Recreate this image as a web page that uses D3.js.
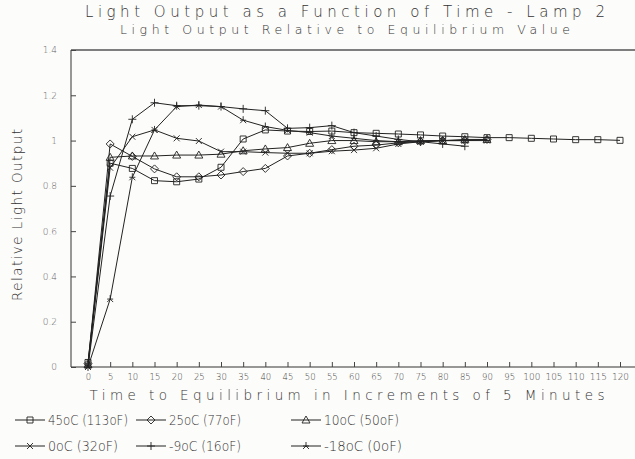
<!DOCTYPE html>
<html>
<head>
<meta charset="utf-8">
<script src="https://cdn.jsdelivr.net/npm/d3@7/dist/d3.min.js"></script>
<style>
  body { margin: 0; background: #fcfcfa; }
  svg { display: block; }
  text { font-family: "DejaVu Sans", sans-serif; font-weight: 200; fill: #333; }
</style>
</head>
<body>
<svg width="635" height="459"></svg>
<script>
"use strict";

// time steps (5 minute increments)
const times = d3.range(0, 121, 5);
const xTicks = d3.range(0, 121, 5);
const yTicks = [0, 0.2, 0.4, 0.6, 0.8, 1, 1.2, 1.4];

const seriesNames = ["45oC (113oF)", "25oC (77oF)", "10oC (50oF)", "0oC (32oF)", "-9oC (16oF)", "-18oC (0oF)"];
const seriesSymbols = ["square", "diamond", "triangle", "x", "plus", "star"];

const lamp45 = [0.02, 0.90, 0.877, 0.823, 0.818, 0.83, 0.882, 1.007, 1.047, 1.042, 1.04, 1.042, 1.035,
                1.032, 1.029, 1.025, 1.02, 1.017, 1.013, 1.013, 1.01, 1.007, 1.004, 1.004, 1.001];
const lamp25 = [0.015, 0.985, 0.93, 0.875, 0.84, 0.84, 0.848, 0.863, 0.877, 0.932, 0.944, 0.96, 0.975,
                0.98, 0.99, 0.995, 1.0, 1.0, 1.005];
const lamp10 = [0.01, 0.926, 0.932, 0.932, 0.936, 0.936, 0.94, 0.955, 0.963, 0.969, 0.988, 1.0, 1.0,
                0.995, 0.995, 1.0, 1.0, 1.005, 1.005];
const lamp0 = [0.005, 0.88, 1.017, 1.047, 1.01, 0.998, 0.951, 0.951, 0.947, 0.944, 0.944, 0.953, 0.958,
               0.966, 0.985, 0.995, 1.0, 1.0];
const lampM9 = [0.0, 0.755, 1.094, 1.167, 1.154, 1.154, 1.15, 1.14, 1.132, 1.054, 1.057, 1.066, 1.035,
                1.02, 1.005, 0.995, 0.985, 0.975];
const lampM18 = [0.0, 0.30, 0.838, 1.047, 1.15, 1.157, 1.15, 1.09, 1.062, 1.045, 1.035, 1.02, 1.01,
                 1.0, 0.995, 0.995, 1.0, 1.0, 1.0];
const seriesValues = [lamp45, lamp25, lamp10, lamp0, lampM9, lampM18];

const plotLeft = 71, plotRight = 635, plotTop = 50, plotBottom = 367;

const svg = d3.select("svg");

const xScale = d3.scaleLinear().domain([0, 120]).range([88, 620]);
const yScale = d3.scaleLinear().domain([0, 1.4]).range([plotBottom, plotTop]);

function symbolPath(kind, s) {
    switch (kind) {
        case "square": return `M${-s},${-s}h${2*s}v${2*s}h${-2*s}Z`;
        case "diamond": return `M0,${-s-1}L${s+1},0L0,${s+1}L${-s-1},0Z`;
        case "triangle": return `M0,${-s-1}L${s+1},${s}L${-s-1},${s}Z`;
        case "x": return `M${-s},${-s}L${s},${s}M${-s},${s}L${s},${-s}`;
        case "plus": return `M${-s-1},0H${s+1}M0,${-s-1}V${s+1}`;
        case "star": return `M0,${-s-1}V0M${-s},${s}L0,0L${s},${s}M${-s},0H${s}`;
    }
}

// titles
svg.append("text").attr("x", 345).attr("y", 17).attr("text-anchor", "middle")
    .attr("font-size", 15).attr("textLength", 520).attr("lengthAdjust", "spacing")
    .text("Light Output as a Function of Time - Lamp 2");
svg.append("text").attr("x", 345).attr("y", 34).attr("text-anchor", "middle")
    .attr("font-size", 12.5).attr("textLength", 450).attr("lengthAdjust", "spacing")
    .text("Light Output Relative to Equilibrium Value");

// frame
svg.append("path")
    .attr("d", `M${plotLeft},${plotTop}V${plotBottom}H${plotRight}`)
    .attr("fill", "none").attr("stroke", "#333").attr("stroke-width", 1);
svg.append("line").attr("x1", plotLeft).attr("x2", plotRight).attr("y1", plotTop).attr("y2", plotTop)
    .attr("stroke", "#555").attr("stroke-width", 1.6);

// axes
const xAxis = svg.append("g").attr("transform", `translate(0,${plotBottom})`)
    .call(d3.axisBottom(xScale).tickValues(xTicks).tickSize(-5).tickPadding(7).tickFormat(d3.format("d")));
xAxis.select(".domain").remove();
xAxis.selectAll("line").attr("stroke", "#444");
xAxis.selectAll("text").attr("font-size", 8.5).style("fill", "#444").attr("font-family", "DejaVu Sans")
    .attr("textLength", d => d >= 100 ? 17 : null).attr("lengthAdjust", "spacingAndGlyphs");

const yAxis = svg.append("g").attr("transform", `translate(${plotLeft},0)`)
    .call(d3.axisLeft(yScale).tickValues(yTicks).tickSize(-5).tickPadding(14)
        .tickFormat(d => String(Math.round(d * 10) / 10)));
yAxis.select(".domain").remove();
yAxis.selectAll("line").attr("stroke", "#444");
yAxis.selectAll("text").attr("font-size", 9).style("fill", "#666").attr("font-family", "DejaVu Sans");

// axis titles
svg.append("text").attr("x", 347).attr("y", 400).attr("text-anchor", "middle")
    .attr("font-size", 13.5).attr("textLength", 515).attr("lengthAdjust", "spacing")
    .text("Time to Equilibrium in Increments of 5 Minutes");
svg.append("text").attr("transform", "translate(22,215) rotate(-90)").attr("text-anchor", "middle")
    .attr("font-size", 13.5).attr("textLength", 172).attr("lengthAdjust", "spacing")
    .text("Relative Light Output");

// series
const line = d3.line().x((d, i) => xScale(times[i])).y(d => yScale(d));
seriesValues.forEach((vals, k) => {
    const g = svg.append("g");
    g.append("path").attr("d", line(vals)).attr("fill", "none")
        .attr("stroke", "#222").attr("stroke-width", 1);
    g.selectAll("path.m").data(vals).join("path").attr("class", "m")
        .attr("transform", (d, i) => `translate(${xScale(times[i])},${yScale(d)})`)
        .attr("d", symbolPath(seriesSymbols[k], 3))
        .attr("fill", "none").attr("stroke", "#222").attr("stroke-width", 0.9);
});

// legend
const legendX = [15, 136, 291];
const legendY = [425, 451];
const legendLen = [80, 72, 75, 70, 72, 78];
seriesNames.forEach((name, k) => {
    const lx = legendX[k % 3], ly = legendY[Math.floor(k / 3)];
    const g = svg.append("g").attr("transform", `translate(${lx},${ly})`);
    g.append("line").attr("x1", 0).attr("x2", 30).attr("y1", -5).attr("y2", -5)
        .attr("stroke", "#222").attr("stroke-width", 1);
    g.append("path").attr("transform", "translate(15,-5)")
        .attr("d", symbolPath(seriesSymbols[k], 3)).attr("fill", "none")
        .attr("stroke", "#222").attr("stroke-width", 0.9);
    g.append("text").attr("x", 33).attr("y", 0).attr("font-size", 14)
        .attr("textLength", legendLen[k]).attr("lengthAdjust", "spacingAndGlyphs").text(name);
});
</script>
</body>
</html>
